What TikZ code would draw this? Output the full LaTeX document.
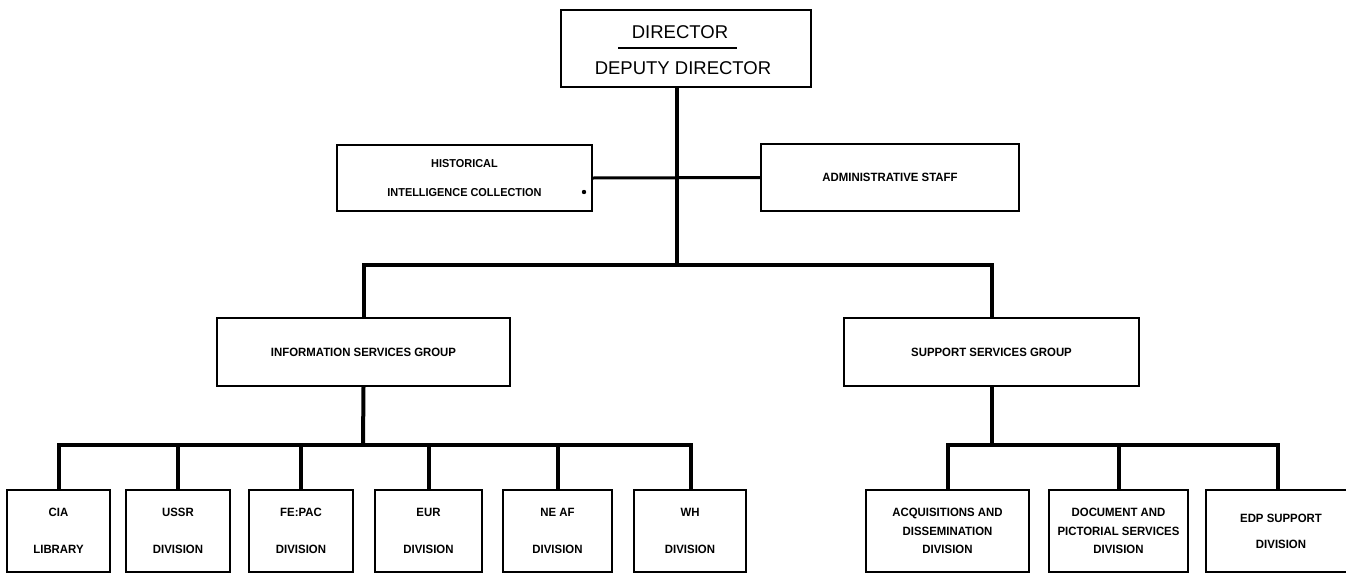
\documentclass[tikz,border=0pt]{standalone}
\usepackage{fontspec}
\setmainfont{Liberation Sans}
\newfontfamily\lblfont[FakeStretch=0.95]{Liberation Sans}
\usetikzlibrary{calc}

\tikzset{
  unit/.style={draw, line width=1.5pt, inner sep=0pt, align=center},
  lbl/.style={font=\lblfont\bfseries\fontsize{12}{14}\selectfont},
  twoline/.style={font=\lblfont\bfseries\fontsize{12}{37}\selectfont},
  threeline/.style={font=\lblfont\bfseries\fontsize{12}{18.5}\selectfont},
  hist/.style={font=\lblfont\bfseries\fontsize{11.5}{29}\selectfont},
  dirtext/.style={font=\fontsize{18.5}{20}\selectfont, inner sep=0pt},
  link/.style={line width=4pt, line join=miter},
  leaf/.style={unit, twoline, minimum height=82pt},
}

\begin{document}
\begin{tikzpicture}[x=1pt, y=-1pt]
  \useasboundingbox[fill=white] (0,0) rectangle (1346,573);
  \clip (0,0) rectangle (1346,573);

  % top of the organisation
  \node[unit, minimum width=250pt, minimum height=77pt] (dir) at (686,48.5) {};
  \node[dirtext] (dirname) at (680,32) {DIRECTOR};
  \node[dirtext] (depname) at (683,68) {DEPUTY DIRECTOR};
  \draw[line width=2.8pt] (618,48) -- (737,48);

  % staff units beside the trunk
  \node[unit, hist, minimum width=255pt, minimum height=66pt] (histcol) at (464.5,178)
    {HISTORICAL\\INTELLIGENCE COLLECTION};
  \fill (584,192) circle (2.2pt);
  \node[unit, lbl, minimum width=258pt, minimum height=67pt] (adm) at (890,177.5)
    {ADMINISTRATIVE STAFF};

  % the two groups
  \node[unit, lbl, minimum width=293pt, minimum height=68pt] (isg) at (363.5,352)
    {INFORMATION SERVICES GROUP};
  \node[unit, lbl, minimum width=295pt, minimum height=68pt] (ssg) at (991.5,352)
    {SUPPORT SERVICES GROUP};

  % divisions under Information Services
  \node[leaf, minimum width=103pt] (cia)   at (58.5,531)  {CIA\\LIBRARY};
  \node[leaf, minimum width=104pt] (ussr)  at (178,531)   {USSR\\DIVISION};
  \node[leaf, minimum width=104pt] (fepac) at (301,531)   {FE:PAC\\DIVISION};
  \node[leaf, minimum width=107pt] (eur)   at (428.5,531) {EUR\\DIVISION};
  \node[leaf, minimum width=109pt] (neaf)  at (557.5,531) {NE AF\\DIVISION};
  \node[leaf, minimum width=112pt] (wh)    at (690,531)   {WH\\DIVISION};

  % divisions under Support Services (the last one runs off the right edge)
  \node[unit, threeline, minimum width=163pt, minimum height=82pt] (acq) at (947.5,531)
    {ACQUISITIONS AND\\DISSEMINATION\\DIVISION};
  \node[unit, threeline, minimum width=139pt, minimum height=82pt] (doc) at (1118.5,531)
    {DOCUMENT AND\\PICTORIAL SERVICES\\DIVISION};
  \node[unit, lbl, font=\lblfont\bfseries\fontsize{12}{26}\selectfont,
        minimum width=150pt, minimum height=82pt] (edp) at (1281,531)
    {EDP SUPPORT\\DIVISION};

  % junction points
  \coordinate (trunk) at (677,265);
  \coordinate (ibar) at (363,445);
  \coordinate (sbar) at (992,445);
  \coordinate (edpstem) at (1278,445);

  % trunk and staff line
  \draw[link] (dir.south -| trunk) -- (trunk);
  \draw[link, line width=3pt] (histcol.east) -- (adm.west);

  % upper bar to the groups
  \draw[link] (isg.north) -- (isg.north |- trunk) -- (ssg.north |- trunk) -- (ssg.north);

  % Information Services branch
  \draw[link] (isg.south) -- (ibar);
  \draw[link] (cia.north) -- (cia.north |- ibar) -- ([xshift=1pt]wh.north |- ibar) -- ([xshift=1pt]wh.north);
  \foreach \d in {ussr, fepac, eur, neaf}
    \draw[link] (\d.north) -- (\d.north |- ibar);

  % Support Services branch
  \draw[link] (ssg.south -| sbar) -- (sbar);
  \draw[link] (acq.north) -- (acq.north |- sbar) -- (edpstem) -- (edpstem |- edp.north);
  \draw[link] (doc.north) -- (doc.north |- sbar);
\end{tikzpicture}
\end{document}
